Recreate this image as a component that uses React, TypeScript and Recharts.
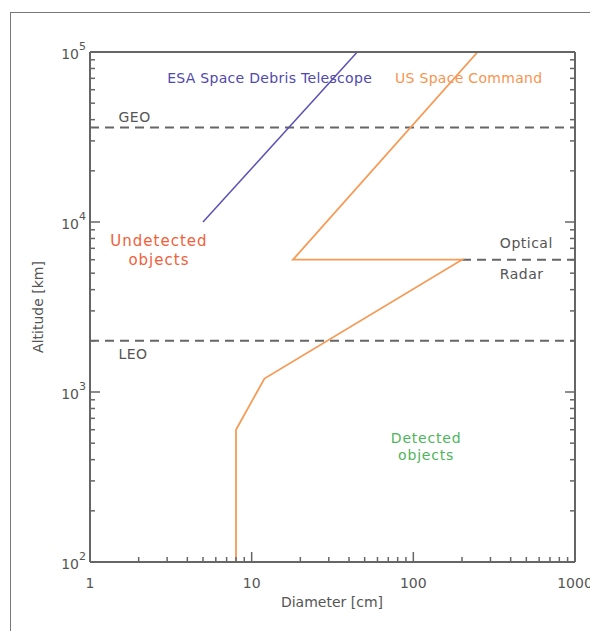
import React from 'react';
import { ComposedChart, Line, XAxis, YAxis, ReferenceLine, ReferenceDot } from 'recharts';

// diameter [cm] / altitude [km]
const esaDiameter = [5, 45];
const esaAltitude = [10000, 100000];
const uscDiameter = [8, 8, 12, 200, 18, 250];
const uscAltitude = [100, 600, 1200, 6000, 6000, 100000];

const geoAltitude = 36000;
const leoAltitude = 2000;
const opticalRadarAltitude = 6000;
const opticalRadarFrom = 200;

const xTicks = [1, 2, 3, 4, 5, 6, 7, 8, 9, 10, 20, 30, 40, 50, 60, 70, 80, 90, 100, 200, 300, 400, 500, 600, 700, 800, 900, 1000];
const yTicks = [
  100, 200, 300, 400, 500, 600, 700, 800, 900,
  1000, 2000, 3000, 4000, 5000, 6000, 7000, 8000, 9000,
  10000, 20000, 30000, 40000, 50000, 60000, 70000, 80000, 90000, 100000,
];

const esaData = esaDiameter.map((d, i) => ({ d, alt: esaAltitude[i] }));
const uscData = uscDiameter.map((d, i) => ({ d, alt: uscAltitude[i] }));

const FONT = '"DejaVu Sans", sans-serif';
const AXIS = '#666';
const GREY_TEXT = '#555';

const isMajor = (v: number) => Math.abs(Math.log10(v) - Math.round(Math.log10(v))) < 1e-9;

const BottomTick = ({ x, y, payload }: any) => {
  const major = isMajor(payload.value);
  return (
    <g>
      <line x1={x} x2={x} y1={y} y2={y - (major ? 10 : 5)} stroke={AXIS} strokeWidth={1.5} />
      {major && (
        <text x={x} y={y + 26} textAnchor="middle" fontSize={14} fill={GREY_TEXT} fontFamily={FONT}>
          {payload.value}
        </text>
      )}
    </g>
  );
};

const TopTick = ({ x, y, payload }: any) => {
  const major = isMajor(payload.value);
  return <line x1={x} x2={x} y1={y} y2={y + (major ? 10 : 5)} stroke={AXIS} strokeWidth={1.5} />;
};

const LeftTick = ({ x, y, payload }: any) => {
  const major = isMajor(payload.value);
  const exp = Math.round(Math.log10(payload.value));
  return (
    <g>
      <line x1={x} x2={x + (major ? 10 : 5)} y1={y} y2={y} stroke={AXIS} strokeWidth={1.5} />
      {major && (
        <text x={x - 4} y={y + 7} textAnchor="end" fontSize={14} fill={GREY_TEXT} fontFamily={FONT}>
          10
          <tspan dy={-9} fontSize={11}>{exp}</tspan>
        </text>
      )}
    </g>
  );
};

const RightTick = ({ x, y, payload }: any) => {
  const major = isMajor(payload.value);
  return <line x1={x} x2={x - (major ? 10 : 5)} y1={y} y2={y} stroke={AXIS} strokeWidth={1.5} />;
};

// text annotation placed in data coordinates
const note = (label: string, color: string, anchor: string, size = 14, spacing = 0) => (p: any) => (
  <text x={p.cx} y={p.cy} textAnchor={anchor} fill={color} fontSize={size} letterSpacing={spacing} fontFamily={FONT}>
    {label}
  </text>
);

const axisIds = { xAxisId: 'b', yAxisId: 'l' };

export default function App() {
  return (
    <div style={{ position: 'absolute', left: 0, top: 0, width: 590, height: 631, overflow: 'hidden', background: '#fff' }}>
      <div
        style={{
          position: 'absolute',
          left: 10,
          top: 12,
          width: 620,
          height: 660,
          borderLeft: '1px solid #777',
          borderTop: '1px solid #777',
        }}
      />
      <div style={{ position: 'absolute', left: 0, top: 0 }}>
        <ComposedChart width={590} height={631} margin={{ top: 51, left: 89, right: 14, bottom: 68 }}>
          <XAxis
            xAxisId="b"
            dataKey="d"
            type="number"
            scale="log"
            domain={[1, 1000]}
            ticks={xTicks}
            interval={0}
            height={1}
            tickSize={0}
            tickMargin={0}
            tickLine={false}
            axisLine={{ stroke: AXIS, strokeWidth: 2 }}
            tick={BottomTick}
            allowDataOverflow
          />
          <XAxis
            xAxisId="t"
            orientation="top"
            type="number"
            scale="log"
            domain={[1, 1000]}
            ticks={xTicks}
            interval={0}
            height={1}
            tickSize={0}
            tickMargin={0}
            tickLine={false}
            axisLine={{ stroke: AXIS, strokeWidth: 2 }}
            tick={TopTick}
            allowDataOverflow
          />
          <YAxis
            yAxisId="l"
            dataKey="alt"
            type="number"
            scale="log"
            domain={[100, 100000]}
            ticks={yTicks}
            interval={0}
            width={1}
            tickSize={0}
            tickMargin={0}
            tickLine={false}
            axisLine={{ stroke: AXIS, strokeWidth: 2 }}
            tick={LeftTick}
            allowDataOverflow
          />
          <YAxis
            yAxisId="r"
            orientation="right"
            type="number"
            scale="log"
            domain={[100, 100000]}
            ticks={yTicks}
            interval={0}
            width={1}
            tickSize={0}
            tickMargin={0}
            tickLine={false}
            axisLine={{ stroke: AXIS, strokeWidth: 2 }}
            tick={RightTick}
            allowDataOverflow
          />

          <ReferenceLine {...axisIds} y={geoAltitude} stroke="#666" strokeWidth={2} strokeDasharray="9 6" />
          <ReferenceLine {...axisIds} y={leoAltitude} stroke="#666" strokeWidth={2} strokeDasharray="9 6" />
          <ReferenceLine
            {...axisIds}
            segment={[
              { x: opticalRadarFrom, y: opticalRadarAltitude },
              { x: 1000, y: opticalRadarAltitude },
            ]}
            stroke="#666"
            strokeWidth={2}
            strokeDasharray="9 6"
          />

          <Line {...axisIds} data={esaData} dataKey="alt" type="linear" stroke="#5a52b4" strokeWidth={1.5} dot={false} isAnimationActive={false} />
          <Line {...axisIds} data={uscData} dataKey="alt" type="linear" stroke="#f79a55" strokeWidth={1.8} dot={false} isAnimationActive={false} />

          <ReferenceDot {...axisIds} x={3} y={66000} r={0} shape={note('ESA Space Debris Telescope', '#5048ae', 'start', 14, 0.3)} />
          <ReferenceDot {...axisIds} x={77} y={66000} r={0} shape={note('US Space Command', '#f79550', 'start', 14, 0.3)} />
          <ReferenceDot {...axisIds} x={1.5} y={38500} r={0} shape={note('GEO', GREY_TEXT, 'start', 14, 0.5)} />
          <ReferenceDot {...axisIds} x={1.5} y={1560} r={0} shape={note('LEO', GREY_TEXT, 'start', 14, 0.5)} />
          <ReferenceDot {...axisIds} x={343} y={7000} r={0} shape={note('Optical', GREY_TEXT, 'start', 14, 0.5)} />
          <ReferenceDot {...axisIds} x={343} y={4600} r={0} shape={note('Radar', GREY_TEXT, 'start', 14, 0.5)} />
          <ReferenceDot {...axisIds} x={2.67} y={7200} r={0} shape={note('Undetected', '#f2603a', 'middle', 15, 1)} />
          <ReferenceDot {...axisIds} x={2.67} y={5600} r={0} shape={note('objects', '#f2603a', 'middle', 15, 1)} />
          <ReferenceDot {...axisIds} x={120} y={500} r={0} shape={note('Detected', '#4db55a', 'middle', 14, 0.8)} />
          <ReferenceDot {...axisIds} x={120} y={400} r={0} shape={note('objects', '#4db55a', 'middle', 14, 0.8)} />
        </ComposedChart>
      </div>
      <div
        style={{
          position: 'absolute',
          left: 276,
          top: 594,
          width: 112,
          textAlign: 'center',
          fontFamily: FONT,
          fontSize: 14,
          color: GREY_TEXT,
          whiteSpace: 'nowrap',
        }}
      >
        Diameter [cm]
      </div>
      <div
        style={{
          position: 'absolute',
          left: 38,
          top: 307,
          transform: 'translate(-50%, -50%) rotate(-90deg)',
          fontFamily: FONT,
          fontSize: 14,
          color: GREY_TEXT,
          whiteSpace: 'nowrap',
        }}
      >
        Altitude [km]
      </div>
    </div>
  );
}
